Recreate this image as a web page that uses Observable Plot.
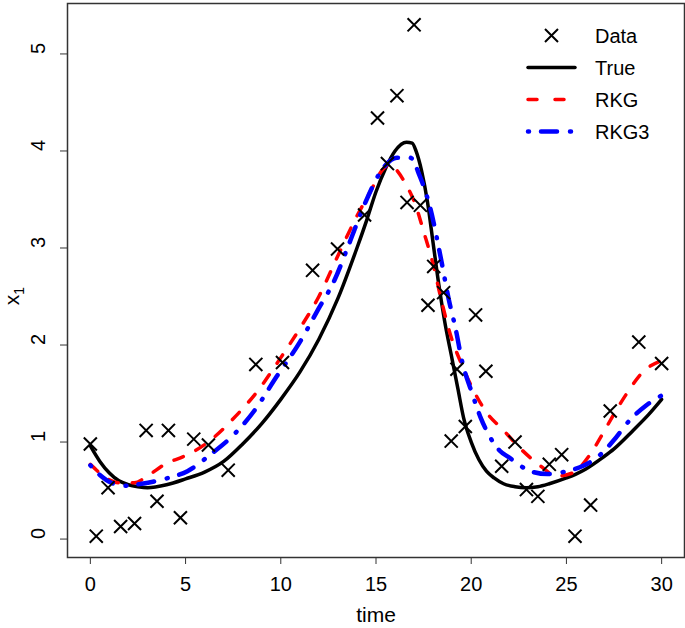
<!DOCTYPE html>
<html>
<head>
<meta charset="utf-8">
<script src="https://cdn.jsdelivr.net/npm/d3@7"></script>
<script src="https://cdn.jsdelivr.net/npm/@observablehq/plot@0.6"></script>
<style>
  html, body { margin: 0; padding: 0; background: #fff; }
  #chart { width: 685px; height: 628px; }
</style>
</head>
<body>
<div id="chart"></div>
<script>
// Observed data
const dataTime = [0, 0.31, 0.93, 1.59, 2.32, 2.93, 3.5, 4.1, 4.73, 5.43, 6.2, 7.24, 8.69, 10.09, 11.67, 12.98, 14.4, 15.08, 15.6, 16.1, 16.63, 17.0, 17.33, 17.73, 18.03, 18.55, 18.95, 19.25, 19.69, 20.23, 20.77, 21.6, 22.3, 22.9, 23.5, 24.1, 24.75, 25.45, 26.27, 27.3, 28.8, 30.0];
const dataX1 = [0.98, 0.03, 0.53, 0.13, 0.16, 1.12, 0.39, 1.12, 0.22, 1.03, 0.97, 0.71, 1.80, 1.82, 2.77, 2.99, 3.34, 4.34, 3.87, 4.57, 3.47, 5.30, 3.44, 2.41, 2.81, 2.54, 1.01, 1.75, 1.16, 2.31, 1.73, 0.75, 1.00, 0.51, 0.44, 0.77, 0.87, 0.03, 0.35, 1.32, 2.03, 1.81];

// True trajectory
const trueTime = [0, 0.5, 1, 1.5, 2, 2.5, 3, 4, 5, 6, 7, 8, 9, 10, 11, 12, 13, 14, 14.5, 15, 15.5, 16, 16.6, 16.9, 17.1, 17.4, 17.7, 18.0, 18.3, 18.6, 19.0, 19.3, 19.6, 20.0, 20.4, 20.8, 21.2, 21.7, 22.3, 22.9, 23.5, 24.1, 25, 25.5, 26, 26.9, 27.5, 28.5, 29.3, 30];
const trueX1 = [0.96, 0.80, 0.68, 0.60, 0.56, 0.54, 0.53, 0.56, 0.62, 0.69, 0.80, 0.98, 1.19, 1.44, 1.72, 2.06, 2.48, 3.00, 3.28, 3.58, 3.82, 4.00, 4.09, 4.08, 4.00, 3.79, 3.48, 3.05, 2.62, 2.25, 1.85, 1.55, 1.25, 1.00, 0.82, 0.70, 0.63, 0.57, 0.54, 0.53, 0.54, 0.57, 0.63, 0.67, 0.72, 0.84, 0.93, 1.12, 1.28, 1.44];

// RKG estimate
const rkgTime = [0, 0.5, 1, 1.5, 2.3, 3, 3.9, 5, 5.5, 6.5, 7.5, 8.8, 10, 11, 12, 13, 14, 14.7, 15.4, 15.8, 16.1, 16.5, 17.1, 17.5, 17.95, 18.4, 18.9, 19.5, 20.05, 20.75, 21.7, 22.6, 23.6, 24.5, 25.3, 26.2, 26.8, 27.5, 28.2, 29, 30];
const rkgX1 = [0.77, 0.68, 0.61, 0.58, 0.58, 0.65, 0.77, 0.86, 0.91, 1.05, 1.24, 1.53, 1.87, 2.17, 2.50, 2.92, 3.33, 3.58, 3.82, 3.86, 3.80, 3.68, 3.43, 3.17, 2.87, 2.49, 2.11, 1.80, 1.56, 1.32, 1.12, 0.93, 0.76, 0.65, 0.68, 0.86, 1.05, 1.29, 1.51, 1.72, 1.84];

// RKG3 estimate
const rkg3Time = [0, 0.5, 1.1, 1.8, 2.7, 3.9, 5.1, 6.3, 7.5, 8.6, 9.8, 11, 12, 12.8, 13.6, 14.4, 15.4, 16.1, 16.8, 17.3, 17.85, 18.4, 18.8, 19.2, 19.5, 20.05, 20.5, 20.8, 21.5, 22.0, 22.4, 23.1, 24, 24.8, 25.7, 26.6, 27.45, 28.3, 29.2, 30];
const rkg3X1 = [0.76, 0.66, 0.58, 0.55, 0.57, 0.62, 0.70, 0.87, 1.07, 1.32, 1.68, 2.03, 2.38, 2.66, 3.05, 3.45, 3.83, 3.93, 3.93, 3.74, 3.41, 2.90, 2.49, 2.15, 1.85, 1.50, 1.25, 1.12, 0.91, 0.84, 0.78, 0.70, 0.67, 0.69, 0.74, 0.84, 1.01, 1.22, 1.38, 1.48];

// Axis ticks
const xTicks = [0, 5, 10, 15, 20, 25, 30];
const yTicks = [0, 1, 2, 3, 4, 5];

// Legend
const legendLabels = ["Data", "True", "RKG", "RKG3"];

const zip = (xs, ys) => xs.map((t, i) => ({time: t, x1: ys[i]}));
const obs = zip(dataTime, dataX1);
const truth = zip(trueTime, trueX1);
const rkg = zip(rkgTime, rkgX1);
const rkg3 = zip(rkg3Time, rkg3X1);

const FONT = "'Liberation Sans', Arial, Helvetica, sans-serif";

const chart = Plot.plot({
  width: 685,
  height: 628,
  marginLeft: 67,
  marginRight: 1,
  marginTop: 3,
  marginBottom: 71,
  style: {fontFamily: FONT, background: "#fff", color: "#000"},
  x: {domain: [-1.2, 31.2], label: null},
  y: {domain: [-0.19, 5.52], label: null},
  marks: [
    Plot.line(truth, {x: "time", y: "x1", stroke: "#000", strokeWidth: 3.5, curve: "monotone-x"}),
    Plot.line(rkg, {x: "time", y: "x1", stroke: "#ff0000", strokeWidth: 3.5, strokeDasharray: "10,14", strokeLinecap: "round", curve: "monotone-x"}),
    Plot.line(rkg3, {x: "time", y: "x1", stroke: "#0000ff", strokeWidth: 4.5, strokeDasharray: "1,12,16,13", strokeLinecap: "round", curve: "monotone-x"}),
    Plot.dot(obs, {x: "time", y: "x1", symbol: "times", r: 6, stroke: "#000", strokeWidth: 2}),
    Plot.frame({stroke: "#333", strokeWidth: 1.5}),
    Plot.axisX(xTicks, {tickSize: 7, tickPadding: 12, fontSize: 20, label: null, stroke: "#333"}),
    Plot.axisY(yTicks, {tickSize: 7, tickFormat: () => "", label: null, stroke: "#333"}),
    Plot.text(yTicks, {y: d => d, text: d => String(d), frameAnchor: "left", dx: -29, rotate: -90, fontSize: 20, lineAnchor: "middle", fill: "#000"}),
    Plot.text(["time"], {text: d => d, frameAnchor: "bottom", dy: 58, fontSize: 21, lineAnchor: "middle", fill: "#000"})
  ]
});

document.getElementById("chart").appendChild(chart);

// y-axis label with subscript
const svg = d3.select(chart);
const ylab = svg.append("text")
  .attr("transform", "translate(18.5,296) rotate(-90)")
  .attr("text-anchor", "middle")
  .attr("font-family", FONT)
  .attr("font-size", 21)
  .attr("fill", "#000");
ylab.append("tspan").text("x");
ylab.append("tspan").attr("font-size", 14).attr("dy", 5).text("1");

// legend
const lg = svg.append("g").attr("font-family", FONT).attr("font-size", 20).attr("text-anchor", "start");
const rowY = i => 35.5 + i * 32;
legendLabels.forEach((lab, i) => {
  const y = rowY(i);
  lg.append("text").attr("x", 595).attr("y", y + 7.2).attr("fill", "#000").attr("text-anchor", "start").text(lab);
});
lg.append("path")
  .attr("transform", `translate(551.5,${rowY(0)})`)
  .attr("d", d3.symbol(d3.symbolTimes, 112)())
  .attr("stroke", "#000").attr("stroke-width", 2).attr("fill", "none");
const seg = (i, color, w, dash) => {
  const l = lg.append("line")
    .attr("x1", 528).attr("x2", 575).attr("y1", rowY(i)).attr("y2", rowY(i))
    .attr("stroke", color).attr("stroke-width", w).attr("stroke-linecap", "round");
  if (dash) l.attr("stroke-dasharray", dash);
};
seg(1, "#000", 3.5, null);
seg(2, "#ff0000", 3.5, "9,18");
seg(3, "#0000ff", 4.5, "1,12,16,13");
</script>
</body>
</html>
